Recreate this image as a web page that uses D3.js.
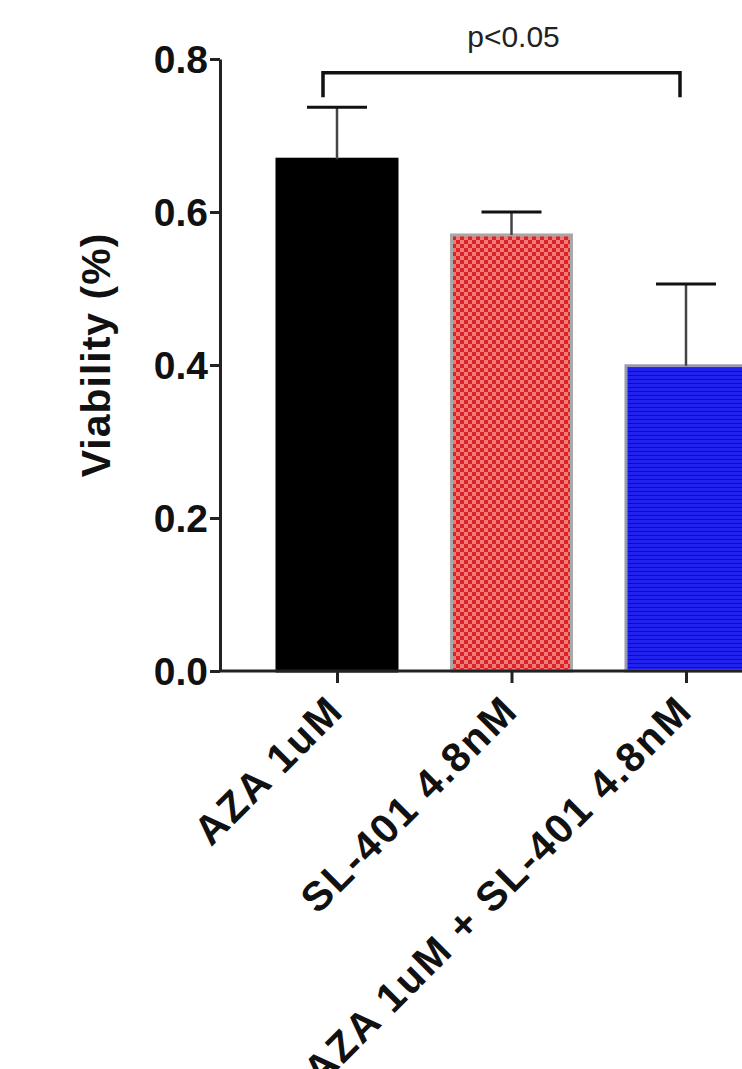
<!DOCTYPE html>
<html lang="en">
<head>
<meta charset="UTF-8">
<title>Viability</title>
<script src="https://d3js.org/d3.v7.min.js"></script>
<style>
body { margin: 0; background: #fff; }
svg text { font-family: "Liberation Sans", Arial, Helvetica, sans-serif; }
</style>
</head>
<body>
<script>
// data
var categories = ["AZA 1uM", "SL-401 4.8nM", "AZA 1uM + SL-401 4.8nM"];
var means = [0.669, 0.570, 0.399];
var errors = [0.068, 0.030, 0.107];
var yTicks = [0.0, 0.2, 0.4, 0.6, 0.8];
var sigPair = [0, 2];
var sigLabel = "p<0.05";
var sigLevel = 0.782;

var W = 742, H = 1069;
var svg = d3.select("body").append("svg").attr("width", W).attr("height", H);

var defs = svg.append("defs");
// red checkerboard
var chk = defs.append("pattern").attr("id", "chk").attr("patternUnits", "userSpaceOnUse")
  .attr("width", 8).attr("height", 8);
chk.append("rect").attr("width", 8).attr("height", 8).attr("fill", "#f27a7a");
chk.append("rect").attr("width", 4).attr("height", 4).attr("fill", "#d82424");
chk.append("rect").attr("x", 4).attr("y", 4).attr("width", 4).attr("height", 4).attr("fill", "#d82424");
// blue horizontal stripes
var str = defs.append("pattern").attr("id", "str").attr("patternUnits", "userSpaceOnUse")
  .attr("width", 8).attr("height", 4);
str.append("rect").attr("width", 8).attr("height", 4).attr("fill", "#2222ee");
str.append("rect").attr("y", 3).attr("width", 8).attr("height", 1).attr("fill", "#1010a8");

var fills = ["#000", "url(#chk)", "url(#str)"];
var strokes = ["#000", "#a8a8a8", "#9a9ab0"];

var y = d3.scaleLinear().domain([0, 0.8]).range([671, 59]);
var x = d3.scalePoint().domain(categories).range([337, 686]);
var barW = 120;

// bars
svg.selectAll("rect.bar").data(categories).enter().append("rect")
  .attr("class", "bar")
  .attr("x", function(d) { return x(d) - barW / 2; })
  .attr("y", function(d, i) { return y(means[i]); })
  .attr("width", barW)
  .attr("height", function(d, i) { return y(0) - y(means[i]); })
  .attr("fill", function(d, i) { return fills[i]; })
  .attr("stroke", function(d, i) { return strokes[i]; })
  .attr("stroke-width", 3);

// error bars (upper only)
var eb = svg.selectAll("g.err").data(categories).enter().append("g").attr("class", "err");
eb.append("line")
  .attr("x1", function(d) { return x(d); }).attr("x2", function(d) { return x(d); })
  .attr("y1", function(d, i) { return y(means[i]); })
  .attr("y2", function(d, i) { return y(means[i] + errors[i]); })
  .attr("stroke", "#444").attr("stroke-width", 2.5);
eb.append("line")
  .attr("x1", function(d) { return x(d) - 30; }).attr("x2", function(d) { return x(d) + 30; })
  .attr("y1", function(d, i) { return y(means[i] + errors[i]); })
  .attr("y2", function(d, i) { return y(means[i] + errors[i]); })
  .attr("stroke", "#111").attr("stroke-width", 3);

// y axis
var yAxis = d3.axisLeft(y).tickValues(yTicks).tickFormat(d3.format(".1f"))
  .tickSize(10).tickPadding(2).tickSizeOuter(0);
var gy = svg.append("g").attr("transform", "translate(220,0)").call(yAxis);
gy.select(".domain").attr("stroke", "#222").attr("stroke-width", 3);
gy.selectAll(".tick line").attr("stroke", "#222").attr("stroke-width", 3);
gy.selectAll(".tick text").attr("font-size", 39).attr("font-weight", "bold")
  .attr("fill", "#111").attr("dy", "0.34em");

// x axis
var xAxis = d3.axisBottom(x).tickSize(12).tickPadding(0).tickSizeOuter(0);
var gx = svg.append("g").attr("transform", "translate(0," + y(0) + ")").call(xAxis);
gx.select(".domain").remove();
gx.append("line").attr("x1", 220).attr("x2", W).attr("stroke", "#222").attr("stroke-width", 3);
gx.selectAll(".tick line").attr("stroke", "#222").attr("stroke-width", 3);
gx.selectAll(".tick text")
  .attr("font-size", 41).attr("font-weight", "bold").attr("fill", "#111")
  .attr("letter-spacing", 2)
  .attr("text-anchor", "end").attr("x", 0).attr("y", 0).attr("dy", 0)
  .attr("transform", "translate(8,42) rotate(-45)");

// y label
svg.append("text")
  .attr("transform", "translate(110,355) rotate(-90)")
  .attr("text-anchor", "middle").attr("font-size", 41).attr("font-weight", "bold")
  .attr("letter-spacing", 1)
  .attr("fill", "#111")
  .text("Viability (%)");

// significance bracket
var bx1 = x(categories[sigPair[0]]) - 14, bx2 = x(categories[sigPair[1]]) - 6;
var by = y(sigLevel), byLeg = y(sigLevel - 0.032);
svg.append("path")
  .attr("d", "M" + bx1 + "," + byLeg + "V" + by + "H" + bx2 + "V" + byLeg)
  .attr("fill", "none").attr("stroke", "#111").attr("stroke-width", 3.5);
svg.append("text")
  .attr("x", (bx1 + bx2) / 2 + 12).attr("y", by - 26)
  .attr("text-anchor", "middle").attr("font-size", 30).attr("fill", "#222")
  .text(sigLabel);
</script>
</body>
</html>
